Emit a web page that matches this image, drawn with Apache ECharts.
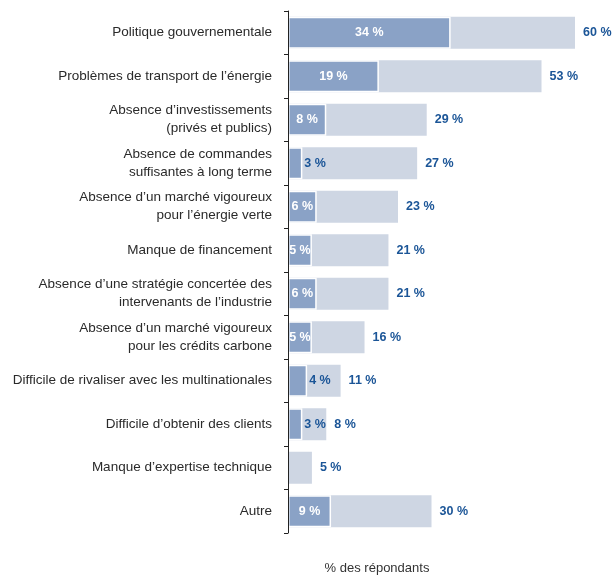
<!DOCTYPE html>
<html>
<head>
<meta charset="utf-8">
<script src="https://cdn.jsdelivr.net/npm/echarts@6/dist/echarts.min.js"></script>
<style>
  html, body { margin: 0; padding: 0; background: #fff; }
  #chart { width: 613px; height: 575px; }
</style>
</head>
<body>
<div id="chart"></div>
<script>
// Obstacles cités, de haut en bas
const categories = [
  'Politique gouvernementale',
  'Problèmes de transport de l’énergie',
  'Absence d’investissements\n(privés et publics)',
  'Absence de commandes\nsuffisantes à long terme',
  'Absence d’un marché vigoureux\npour l’énergie verte',
  'Manque de financement',
  'Absence d’une stratégie concertée des\nintervenants de l’industrie',
  'Absence d’un marché vigoureux\npour les crédits carbone',
  'Difficile de rivaliser avec les multinationales',
  'Difficile d’obtenir des clients',
  'Manque d’expertise technique',
  'Autre'
];
// Obstacle principal (% des répondants)
const mainObstacle = [34, 19, 8, 3, 6, 5, 6, 5, 4, 3, null, 9];
// Total des mentions (% des répondants)
const totalMentions = [60, 53, 29, 27, 23, 21, 21, 16, 11, 8, 5, 30];
const axisTitle = '% des répondants';

const FONT = "'Liberation Sans Narrow', 'Arial Narrow', 'Liberation Sans', sans-serif";
const BLUE_TEXT = '#1b5597';
const DARK_BAR = '#8aa2c6';
const LIGHT_BAR = '#ced6e3';

// Small values do not fit inside their bar: put the label just outside, in blue
const mainData = mainObstacle.map(v => {
  if (v == null) return { value: null };
  if (v < 5) {
    return { value: v, label: { position: 'right', distance: 2, color: BLUE_TEXT } };
  }
  return { value: v };
});

const chart = echarts.init(document.getElementById('chart'), null, { renderer: 'canvas' });
chart.setOption({
  animation: false,
  backgroundColor: '#fff',
  title: {
    text: axisTitle,
    left: 372,
    top: 557,
    textAlign: 'center',
    textStyle: { fontFamily: FONT, fontSize: 13, fontWeight: 'normal', color: '#333' }
  },
  grid: { left: 288, top: 11, bottom: 42, right: 38, containLabel: false },
  xAxis: {
    type: 'value',
    min: 0,
    max: 60,
    show: false
  },
  yAxis: {
    type: 'category',
    data: categories,
    inverse: true,
    z: 5,
    axisLine: { show: true, lineStyle: { color: '#222', width: 1 } },
    axisTick: { show: true, length: 4, inside: false, lineStyle: { color: '#222' } },
    axisLabel: {
      margin: 16,
      fontFamily: FONT,
      fontSize: 13.5,
      color: '#2a2a2a',
      lineHeight: 18,
      align: 'right'
    },
    splitLine: { show: false }
  },
  series: [
    {
      name: 'Total',
      type: 'bar',
      data: totalMentions,
      barWidth: 32,
      barGap: '-100%',
      itemStyle: { color: LIGHT_BAR },
      label: {
        show: true,
        position: 'right',
        distance: 8,
        formatter: p => p.value + ' %',
        fontFamily: FONT,
        fontSize: 12.5,
        fontWeight: 'bold',
        color: BLUE_TEXT
      },
      z: 2
    },
    {
      name: 'Principal',
      type: 'bar',
      data: mainData,
      barWidth: 32,
      barGap: '-100%',
      itemStyle: { color: DARK_BAR, borderColor: '#fff', borderWidth: 1.5 },
      label: {
        show: true,
        position: 'inside',
        formatter: p => (p.value == null ? '' : p.value + ' %'),
        fontFamily: FONT,
        fontSize: 12.5,
        fontWeight: 'bold',
        color: '#fff'
      },
      z: 3
    }
  ]
});
</script>
</body>
</html>
